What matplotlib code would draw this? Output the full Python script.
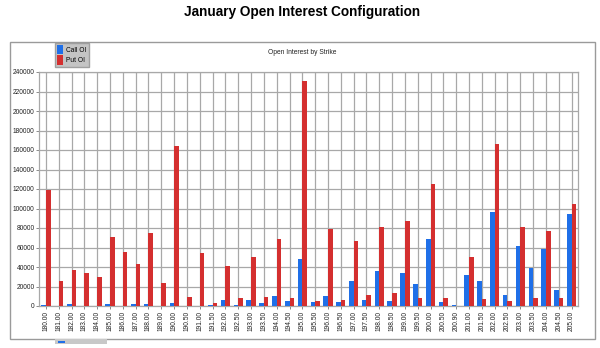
import matplotlib.pyplot as plt
import numpy as np
from matplotlib.patches import Rectangle

strikes = ['180.00', '181.00', '182.00', '183.00', '184.00', '185.00', '186.00',
           '187.00', '188.00', '189.00', '190.00', '190.50', '191.00', '191.50',
           '192.00', '192.50', '193.00', '193.50', '194.00', '194.50', '195.00',
           '195.50', '196.00', '196.50', '197.00', '197.50', '198.00', '198.50',
           '199.00', '199.50', '200.00', '200.50', '200.90', '201.00', '201.50',
           '202.00', '202.50', '203.00', '203.50', '204.00', '204.50', '205.00']

call_oi = [1000, 300, 2000, 300, 300, 2500, 300, 2500, 2000, 300, 3500, 500,
           500, 1000, 6200, 1000, 6200, 3000, 9900, 4800, 47900, 3800, 9900, 3800,
           26000, 6200, 35900, 5500, 34200, 22200, 68700, 3800, 1000, 32200, 25300,
           96100, 10900, 61600, 39000, 58500, 16100, 94400]

put_oi = [118700, 26000, 37300, 34200, 29800, 70800, 55700, 42800, 74500, 23600,
          164000, 9600, 54700, 3000, 41400, 7900, 50300, 9200, 68400, 8500, 230800,
          5500, 79300, 6200, 67000, 11600, 80700, 13000, 86900, 8500, 125500, 8500,
          300, 50300, 6800, 166000, 4800, 80700, 7900, 77000, 7900, 105000]

yticks = np.arange(0, 240001, 20000)

fig = plt.figure(figsize=(6, 3.48), dpi=100)
fig.patch.set_facecolor('white')

# outer panel frame and the little scroll thumb under it
fig.patches.append(Rectangle((10 / 600, 1 - 339 / 348), 585 / 600, 297 / 348,
                             transform=fig.transFigure, fill=False,
                             edgecolor='#9a9a9a', lw=1))
fig.patches.append(Rectangle((55 / 600, 1 - 344 / 348), 52 / 600, 5 / 348,
                             transform=fig.transFigure, facecolor='#c8c8c8',
                             edgecolor='none'))
fig.patches.append(Rectangle((58 / 600, 1 - 343 / 348), 7 / 600, 2 / 348,
                             transform=fig.transFigure, facecolor='#1f6fe8',
                             edgecolor='none'))

fig.text(302.5 / 600, 1 - 12 / 348, 'January Open Interest Configuration',
         ha='center', va='center', fontsize=9.8, fontweight='bold',
         family=['Liberation Sans Narrow', 'Liberation Sans'])
fig.text(302 / 600, 1 - 52 / 348, 'Open Interest by Strike', ha='center',
         va='center', fontsize=4.8, color='#222222', family='Liberation Sans')

ax = fig.add_axes([39.5 / 600, 1 - 306 / 348, 538.5 / 600, 234 / 348])
x = np.arange(len(strikes))
w = 0.36
ax.bar(x - w / 2, call_oi, w, color='#1f6fe8', label='Call OI', zorder=3)
ax.bar(x + w / 2, put_oi, w, color='#d42f2f', label='Put OI', zorder=3)

ax.set_xlim(-0.5, len(strikes) - 0.5)
ax.set_ylim(0, 240000)
ax.set_yticks(yticks)
ax.set_yticklabels([str(v) for v in yticks], fontsize=4.8,
                   family='Liberation Sans', color='#222222')
ax.set_xticks(x)
ax.set_xticklabels(strikes, rotation=90, fontsize=4.8,
                   family='Liberation Sans', color='#222222')
ax.tick_params(length=2, width=0.6, color='#777777', pad=1.5)
ax.grid(True, color='#a8a8a8', lw=0.9, zorder=0)
for s in ax.spines.values():
    s.set_color('#a8a8a8')
    s.set_linewidth(0.9)

leg = ax.legend(loc='upper left', bbox_to_anchor=(55 / 600, 1 - 42.5 / 348),
                bbox_transform=fig.transFigure, prop={'family': 'Liberation Sans', 'size': 4.8},
                frameon=True, fancybox=False, handlelength=0.9, handleheight=1.8,
                handletextpad=0.4, borderpad=0.35, labelspacing=0.15,
                borderaxespad=0)
leg.get_frame().set_facecolor('#c4c4c4')
leg.get_frame().set_edgecolor('#a0a0a0')
leg.get_frame().set_alpha(1)

fig.savefig('out.png', dpi=100)
